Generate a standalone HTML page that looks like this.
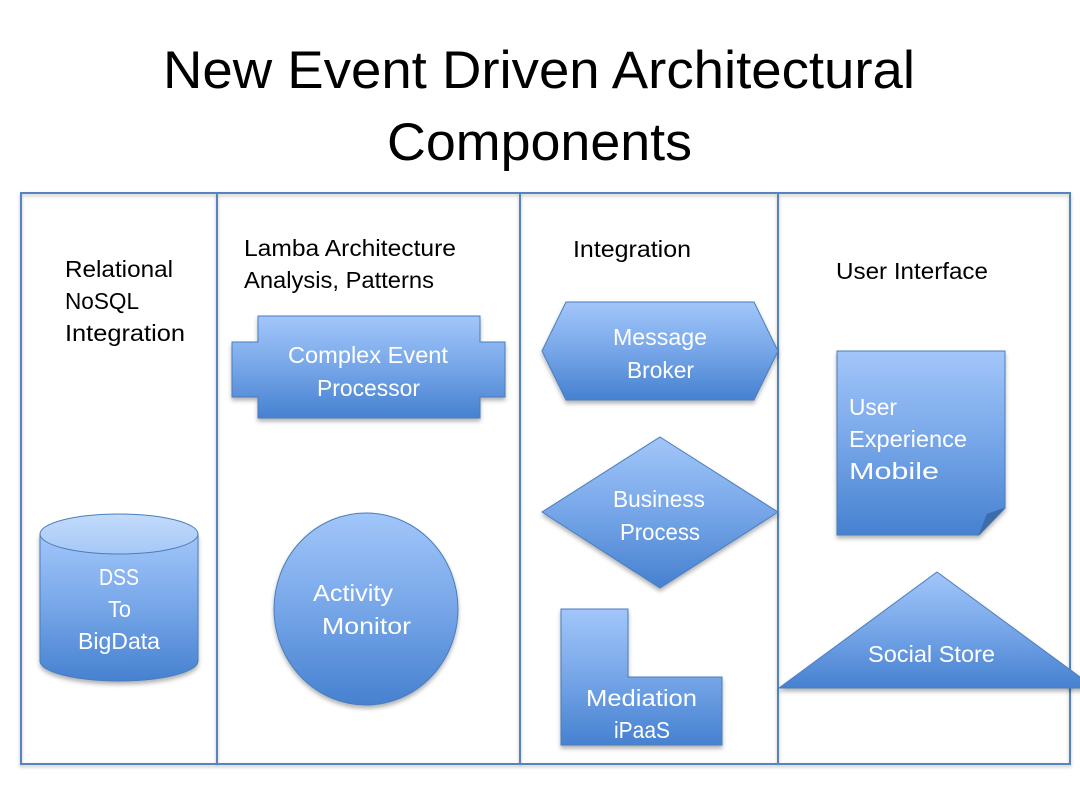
<!DOCTYPE html>
<html>
<head>
<meta charset="utf-8">
<style>
  html, body { margin:0; padding:0; background:#ffffff; }
  body { width:1080px; height:810px; overflow:hidden; }
  svg { display:block; }
  text { font-family: "Liberation Sans", sans-serif; }
</style>
</head>
<body>
<svg width="1080" height="810" viewBox="0 0 1080 810" xmlns="http://www.w3.org/2000/svg">
  <defs>
    <linearGradient id="g" x1="0" y1="0" x2="0" y2="1">
      <stop offset="0" stop-color="#a2c6fa"/>
      <stop offset="0.5" stop-color="#76a6e8"/>
      <stop offset="1" stop-color="#4681d0"/>
    </linearGradient>
    <linearGradient id="gtop" x1="0" y1="0" x2="0" y2="1">
      <stop offset="0" stop-color="#c3dbfb"/>
      <stop offset="1" stop-color="#a6c8f7"/>
    </linearGradient>
    <filter id="sh" x="-10%" y="-10%" width="120%" height="130%">
      <feDropShadow dx="0" dy="3" stdDeviation="2" flood-color="#000" flood-opacity="0.3"/>
    </filter>
    <filter id="lsh" x="-5%" y="-5%" width="110%" height="110%">
      <feDropShadow dx="0" dy="2" stdDeviation="1.5" flood-color="#000" flood-opacity="0.25"/>
    </filter>
  </defs>

  <!-- Title -->
  <text x="163" y="88" font-size="53" fill="#000" textLength="752" lengthAdjust="spacingAndGlyphs">New Event Driven Architectural</text>
  <text x="387" y="160" font-size="53" fill="#000" textLength="305" lengthAdjust="spacingAndGlyphs">Components</text>

  <!-- Column boxes -->
  <g fill="none" stroke="#5784c0" stroke-width="2" filter="url(#lsh)">
    <rect x="21" y="193" width="196" height="571"/>
    <rect x="217" y="193" width="303" height="571"/>
    <rect x="520" y="193" width="258" height="571"/>
    <rect x="778" y="193" width="292" height="571"/>
  </g>

  <!-- Column headers -->
  <g font-size="23" fill="#000">
    <text x="65" y="277" textLength="108" lengthAdjust="spacingAndGlyphs">Relational</text>
    <text x="65" y="309" textLength="74" lengthAdjust="spacingAndGlyphs">NoSQL</text>
    <text x="65" y="341" textLength="120" lengthAdjust="spacingAndGlyphs">Integration</text>

    <text x="244" y="256" textLength="212" lengthAdjust="spacingAndGlyphs">Lamba Architecture</text>
    <text x="244" y="288" textLength="190" lengthAdjust="spacingAndGlyphs">Analysis, Patterns</text>

    <text x="573" y="257" textLength="118" lengthAdjust="spacingAndGlyphs">Integration</text>

    <text x="836" y="279" textLength="152" lengthAdjust="spacingAndGlyphs">User Interface</text>
  </g>

  <!-- Shapes -->
  <g stroke="#4a7ebb" stroke-width="1" fill="url(#g)" filter="url(#sh)">
    <!-- Complex Event Processor -->
    <path d="M258,316 H480 V342 H505 V397 H480 V418 H258 V397 H232 V342 H258 Z"/>
    <!-- Message Broker hexagon -->
    <path d="M542,351 L566,302 H754 L778,351 L754,400 H566 Z"/>
    <!-- Business Process diamond -->
    <path d="M660,437 L778,512 L660,588 L542,512 Z"/>
    <!-- Mediation L-shape -->
    <path d="M561,609 H628 V677 H722 V745 H561 Z"/>
    <!-- Activity Monitor circle -->
    <ellipse cx="366" cy="609" rx="92" ry="96"/>
    <!-- Document -->
    <path d="M837,351 H1005 V508 L979,535 H837 Z"/>
    <!-- Triangle -->
    <path d="M937,572 L1095,688 L779,688 Z"/>
    <!-- Cylinder body -->
    <path d="M40,534 L40,661 A79,20 0 0 0 198,661 L198,534 Z"/>
  </g>
  <!-- Cylinder top -->
  <ellipse cx="119" cy="534" rx="79" ry="20" fill="url(#gtop)" stroke="#4a7ebb" stroke-width="1"/>
  <!-- Document fold -->
  <path d="M979,535 L1005,508 L987,514 Z" fill="#3d6cab" stroke="#3d6cab" stroke-width="0.5"/>

  <!-- Shape labels -->
  <g font-size="23" fill="#ffffff">
    <text x="288" y="363" textLength="160" lengthAdjust="spacingAndGlyphs">Complex Event</text>
    <text x="317" y="396" textLength="103" lengthAdjust="spacingAndGlyphs">Processor</text>

    <text x="613" y="345" textLength="94" lengthAdjust="spacingAndGlyphs">Message</text>
    <text x="627" y="378" textLength="67" lengthAdjust="spacingAndGlyphs">Broker</text>

    <text x="613" y="507" textLength="92" lengthAdjust="spacingAndGlyphs">Business</text>
    <text x="620" y="540" textLength="80" lengthAdjust="spacingAndGlyphs">Process</text>

    <text x="586" y="706" textLength="111" lengthAdjust="spacingAndGlyphs">Mediation</text>
    <text x="614" y="738" textLength="56" lengthAdjust="spacingAndGlyphs">iPaaS</text>

    <text x="313" y="601" textLength="80" lengthAdjust="spacingAndGlyphs">Activity</text>
    <text x="322" y="634" textLength="89" lengthAdjust="spacingAndGlyphs">Monitor</text>

    <text x="99" y="585" textLength="40" lengthAdjust="spacingAndGlyphs">DSS</text>
    <text x="108" y="617" textLength="23" lengthAdjust="spacingAndGlyphs">To</text>
    <text x="78" y="649" textLength="82" lengthAdjust="spacingAndGlyphs">BigData</text>

    <text x="849" y="415" textLength="48" lengthAdjust="spacingAndGlyphs">User</text>
    <text x="849" y="447" textLength="118" lengthAdjust="spacingAndGlyphs">Experience</text>
    <text x="849" y="479" textLength="90" lengthAdjust="spacingAndGlyphs">Mobile</text>

    <text x="868" y="662" textLength="127" lengthAdjust="spacingAndGlyphs">Social Store</text>
  </g>
</svg>
</body>
</html>
